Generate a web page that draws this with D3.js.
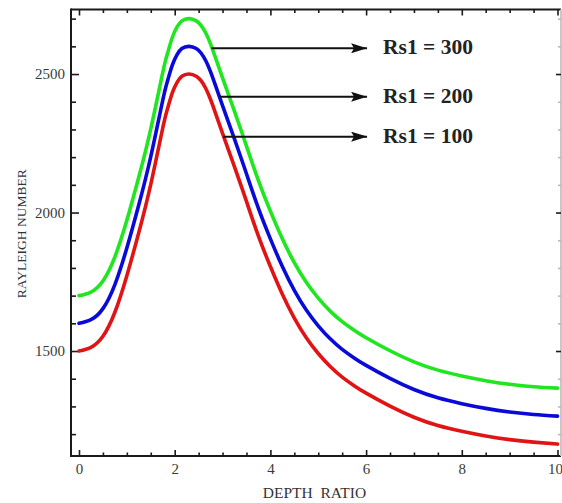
<!DOCTYPE html>
<html>
<head>
<meta charset="utf-8">
<script src="https://cdn.jsdelivr.net/npm/d3@7"></script>
<style>
  html, body { margin: 0; padding: 0; background: #fff; }
  svg { display: block; }
  text { font-family: "Liberation Serif", "Times New Roman", serif; }
</style>
</head>
<body>
<svg id="chart" width="562" height="503"></svg>
<script>
// ---- data ----
const depthRatio = [0, 0.25, 0.5, 0.75, 1.0, 1.25, 1.5, 1.75, 1.85, 1.95, 2.05, 2.15, 2.3, 2.45, 2.55, 2.65, 2.75, 2.85, 3.0, 3.25, 3.5, 3.75, 4.0, 4.25, 4.5, 4.75, 5.0, 5.25, 5.5, 5.75, 6.0, 6.5, 7.0, 7.5, 8.0, 8.5, 9.0, 9.5, 10.0];
const rs100 = [1500, 1513, 1553, 1640, 1772, 1928, 2102, 2305, 2375, 2432, 2470, 2492, 2500, 2492, 2476, 2448, 2408, 2360, 2286, 2165, 2040, 1915, 1805, 1705, 1619, 1548, 1491, 1444, 1406, 1375, 1348, 1301, 1261, 1231, 1210, 1193, 1180, 1171, 1164];
const rs200 = [1600, 1613, 1653, 1740, 1872, 2028, 2202, 2405, 2475, 2532, 2570, 2592, 2600, 2592, 2576, 2548, 2508, 2460, 2386, 2265, 2140, 2015, 1905, 1805, 1719, 1648, 1591, 1544, 1506, 1475, 1448, 1401, 1361, 1331, 1310, 1293, 1280, 1271, 1265];
const rs300 = [1700, 1713, 1753, 1840, 1972, 2128, 2302, 2505, 2575, 2632, 2670, 2692, 2700, 2692, 2676, 2648, 2608, 2560, 2486, 2365, 2240, 2115, 2005, 1905, 1819, 1748, 1691, 1644, 1606, 1575, 1548, 1501, 1461, 1431, 1410, 1393, 1380, 1371, 1366];
const seriesNames = ["Rs1 = 300", "Rs1 = 200", "Rs1 = 100"];
const seriesColors = ["#1fe61f", "#0a0ad8", "#e01414"];
const xMajorTicks = [0, 2, 4, 6, 8, 10];
const yMajorTicks = [1500, 2000, 2500];
// annotation arrows in data units: start x, tip x, y
const arrowStartX = [2.77, 2.95, 3.01];
const arrowTipX = [6.02, 6.02, 6.02];
const arrowY = [2593, 2418, 2274];
const xTitle = "DEPTH  RATIO";
const yTitle = "RAYLEIGH NUMBER";

// ---- layout ----
const svg = d3.select("#chart");
const pLeft = 71, pRight = 561, pTop = 9.5, pBottom = 456;
const x = d3.scaleLinear().domain([-0.167, 10.073]).range([pLeft, pRight]);
const y = d3.scaleLinear().domain([1121, 2733]).range([pBottom, pTop]);

const xMinor = d3.range(0, 10.01, 0.5).filter(v => Math.abs(v % 2) > 1e-6);
const yMinor = d3.range(1200, 2701, 100).filter(v => v % 500 !== 0);

// frame
const frame = svg.append("g").attr("stroke-width", 2);
frame.append("line").attr("x1", pLeft).attr("x2", pRight).attr("y1", pTop).attr("y2", pTop).attr("stroke", "#1a1a1a");
frame.append("line").attr("x1", pLeft).attr("x2", pRight).attr("y1", pBottom).attr("y2", pBottom).attr("stroke", "#1a1a1a");
frame.append("line").attr("x1", pLeft).attr("x2", pLeft).attr("y1", pTop - 1).attr("y2", pBottom + 1).attr("stroke", "#1a1a1a");
frame.append("line").attr("x1", pRight).attr("x2", pRight).attr("y1", pTop).attr("y2", pBottom).attr("stroke", "#c8c8c8");

function styleAxis(g) {
  g.select(".domain").remove();
  g.selectAll(".tick line").attr("stroke", "#1a1a1a").attr("stroke-width", 1.6);
  g.selectAll(".tick text").attr("fill", "#3a3a3a").attr("font-size", 15)
    .attr("font-family", "'Liberation Serif', serif");
}

// bottom axis
svg.append("g").attr("transform", `translate(0,${pBottom})`)
  .call(d3.axisBottom(x).tickValues(xMajorTicks).tickSize(-6).tickPadding(7).tickFormat(d3.format("d")))
  .call(styleAxis)
  .call(g => g.selectAll(".tick text").filter(d => d === 10).attr("text-anchor", "end").attr("dx", 5));
svg.append("g").attr("transform", `translate(0,${pBottom})`)
  .call(d3.axisBottom(x).tickValues(xMinor).tickSize(-3.5).tickFormat(""))
  .call(styleAxis);
// top axis
svg.append("g").attr("transform", `translate(0,${pTop})`)
  .call(d3.axisTop(x).tickValues(xMajorTicks).tickSize(-6).tickFormat(""))
  .call(styleAxis);
svg.append("g").attr("transform", `translate(0,${pTop})`)
  .call(d3.axisTop(x).tickValues(xMinor).tickSize(-3.5).tickFormat(""))
  .call(styleAxis);
// left axis
svg.append("g").attr("transform", `translate(${pLeft},0)`)
  .call(d3.axisLeft(y).tickValues(yMajorTicks).tickSize(-8).tickPadding(6).tickFormat(d3.format("d")))
  .call(styleAxis);
svg.append("g").attr("transform", `translate(${pLeft},0)`)
  .call(d3.axisLeft(y).tickValues(yMinor).tickSize(-5).tickFormat(""))
  .call(styleAxis);
// right axis
svg.append("g").attr("transform", `translate(${pRight},0)`)
  .call(d3.axisRight(y).tickValues(yMajorTicks).tickSize(-5).tickFormat(""))
  .call(styleAxis);
svg.append("g").attr("transform", `translate(${pRight},0)`)
  .call(d3.axisRight(y).tickValues(yMinor).tickSize(-3).tickFormat(""))
  .call(g => { styleAxis(g); g.selectAll(".tick line").attr("stroke", "#bbb"); });

// curves
const allSeries = [rs300, rs200, rs100];
const line = d3.line()
  .x((d, i) => x(depthRatio[i]))
  .y(d => y(d))
  .curve(d3.curveNatural);
const plot = svg.append("g");
allSeries.forEach((s, k) => {
  plot.append("path").datum(s)
    .attr("d", line)
    .attr("fill", "none")
    .attr("stroke", seriesColors[k])
    .attr("stroke-width", 3.6)
    .attr("stroke-linecap", "round")
    .attr("stroke-linejoin", "round");
});

// arrows + labels
const defs = svg.append("defs");
defs.append("marker").attr("id", "arrowhead")
  .attr("viewBox", "0 0 16 10").attr("refX", 16).attr("refY", 5)
  .attr("markerWidth", 16).attr("markerHeight", 10)
  .attr("markerUnits", "userSpaceOnUse").attr("orient", "auto")
  .append("path").attr("d", "M0,0 L16,5 L0,10 L3,5 Z").attr("fill", "#111");

seriesNames.forEach((name, k) => {
  svg.append("line")
    .attr("x1", x(arrowStartX[k])).attr("x2", x(arrowTipX[k]))
    .attr("y1", y(arrowY[k])).attr("y2", y(arrowY[k]))
    .attr("stroke", "#111").attr("stroke-width", 2)
    .attr("marker-end", "url(#arrowhead)");
  svg.append("text")
    .attr("x", x(arrowTipX[k]) + 16)
    .attr("y", y(arrowY[k]) + 6)
    .attr("font-size", 21.5).attr("font-weight", "bold").attr("fill", "#222")
    .text(name);
});

// axis titles
svg.append("text")
  .attr("x", 314.5).attr("y", 498)
  .attr("text-anchor", "middle").attr("font-size", 15.5).attr("fill", "#333")
  .style("white-space", "pre")
  .text(xTitle);
svg.append("text")
  .attr("transform", `translate(25.5,${(pTop + pBottom) / 2 + 1}) rotate(-90)`)
  .attr("text-anchor", "middle").attr("font-size", 13.5).attr("fill", "#333")
  .text(yTitle);
</script>
</body>
</html>
